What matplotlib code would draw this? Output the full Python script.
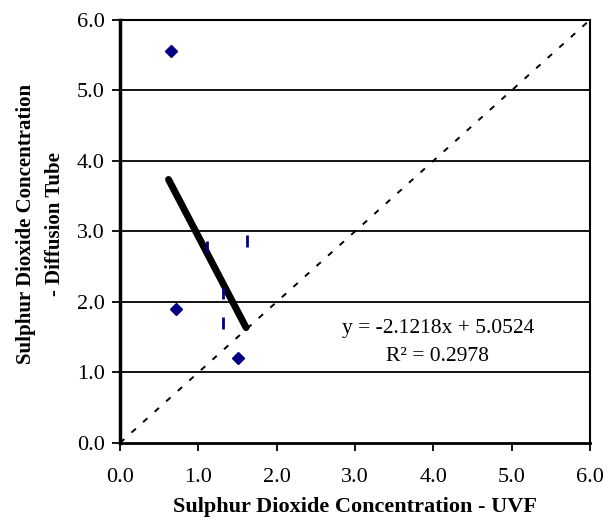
import matplotlib
matplotlib.use("Agg")
import matplotlib.pyplot as plt
import numpy as np

# Diamond points (UVF vs diffusion tube)
uvf = [0.65, 0.72, 1.51]
tube = [5.56, 1.90, 1.21]

# Small dash marks
uvf_dash = [1.11, 1.32, 1.32, 1.62]
tube_dash = [2.78, 2.13, 1.70, 2.87]

# Trendline
slope = -2.1218
intercept = 5.0524
r2 = 0.2978
trend_x = [0.62, 1.61]

ticks = [0.0, 1.0, 2.0, 3.0, 4.0, 5.0, 6.0]

plt.rcParams['font.family'] = ['Liberation Serif', 'DejaVu Serif']

fig = plt.figure(figsize=(6.12, 5.23), dpi=100)
ax = fig.add_axes([0.196, 0.153, 0.768, 0.809])

for y in ticks[1:-1]:
    ax.axhline(y, color='black', lw=1.3, zorder=1)

ax.plot([0, 6], [0, 6], color='black', lw=1.4, linestyle=(0, (3, 5)), zorder=2)

tx = np.array(trend_x)
ax.plot(tx, slope * tx + intercept, color='black', lw=5, solid_capstyle='round', zorder=3)

ax.plot(uvf, tube, linestyle='none', marker='D', color='#000080', markersize=6.5, zorder=4)
ax.plot(uvf_dash, tube_dash, linestyle='none', marker='|', color='#000080',
        markersize=8, markeredgewidth=2, zorder=4)

ax.text(4.06, 1.63, f"y = {slope}x + {intercept}", ha='center', va='center', fontsize=15.5)
ax.text(4.06, 1.22, f"R² = {r2}", ha='center', va='center', fontsize=15.5)

ax.set_xlim(0, 6)
ax.set_ylim(0, 6)
ax.set_xticks(ticks)
ax.set_yticks(ticks)
ax.set_xticklabels([f"{t:.1f}" for t in ticks])
ax.set_yticklabels([f"{t:.1f}" for t in ticks])
ax.tick_params(direction='out', length=6, width=1.3, labelsize=16)
ax.tick_params(axis='x', pad=12)
ax.tick_params(axis='y', pad=5)

ax.spines['left'].set_linewidth(2.5)
ax.spines['bottom'].set_linewidth(2)
ax.spines['top'].set_linewidth(1.5)
ax.spines['right'].set_linewidth(1.5)

ax.set_xlabel("Sulphur Dioxide Concentration - UVF", fontsize=16, fontweight='bold', labelpad=7)
fig.text(41 / 612, 1 - 224 / 523, "Sulphur Dioxide Concentration\n- Diffusion Tube",
         rotation=90, ha='center', va='center', fontsize=15, fontweight='bold',
         linespacing=1.6)

fig.savefig("out.png", dpi=100)
